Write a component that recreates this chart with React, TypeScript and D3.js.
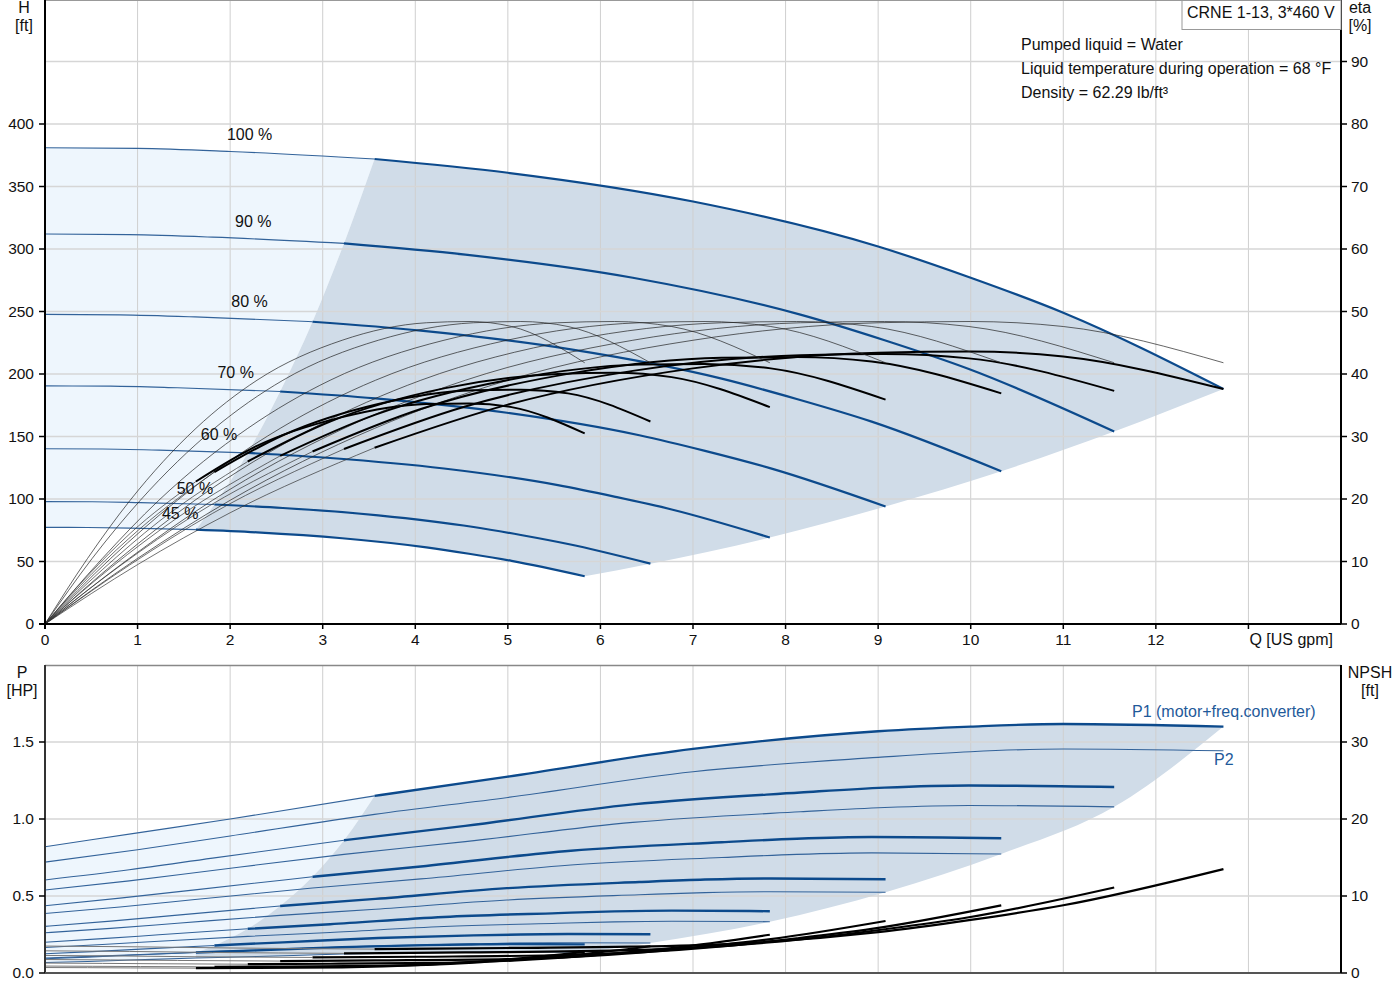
import React from 'react';
import * as d3 from 'd3';

// speed labels, top to bottom
const speeds = ['100 %', '90 %', '80 %', '70 %', '60 %', '50 %', '45 %'];

// flow points per speed curve [US gpm]
const flowGpm: number[][] = [
  [0, 1, 2, 3.56, 5, 7, 9, 10, 11, 12.73],
  [0, 0.91, 1.81, 3.23, 4.54, 6.35, 8.16, 9.07, 9.98, 11.55],
  [0, 0.81, 1.62, 2.89, 4.06, 5.68, 7.31, 8.12, 8.93, 10.33],
  [0, 0.71, 1.43, 2.54, 3.57, 4.99, 6.42, 7.13, 7.84, 9.08],
  [0, 0.62, 1.23, 2.19, 3.08, 4.31, 5.54, 6.15, 6.77, 7.83],
  [0, 0.51, 1.03, 1.83, 2.57, 3.6, 4.63, 5.14, 5.65, 6.54],
  [0, 0.46, 0.92, 1.63, 2.29, 3.21, 4.12, 4.58, 5.04, 5.83],
];

// head [ft]
const headFt: number[][] = [
  [381, 380.5, 378, 372, 361, 338, 302, 277, 249, 188],
  [312, 311.5, 309.5, 304.5, 295.5, 277, 247.5, 227, 204, 154],
  [247.7, 247.3, 245.7, 241.8, 234.7, 219.7, 196.3, 180, 161.9, 122.2],
  [190.5, 190.3, 189, 186, 180.5, 169, 151, 138.5, 124.5, 94],
  [140.2, 140, 139.1, 136.9, 132.8, 124.4, 111.1, 101.9, 91.6, 69.2],
  [97.9, 97.8, 97.1, 95.6, 92.8, 86.9, 77.6, 71.2, 64, 48.3],
  [77.3, 77.2, 76.7, 75.5, 73.3, 68.6, 61.3, 56.2, 50.5, 38.2],
];

// pump efficiency [%] (thin curves, same shape for all speeds)
const etaPump = [0, 10.5, 19.8, 31.3, 39, 45.4, 48.2, 48.4, 47.6, 41.8];

// total efficiency [%]
const etaTotal: number[][] = [
  [0, 9.5, 17.8, 28.2, 35.1, 40.9, 43.4, 43.6, 42.8, 37.6],
  [0, 9.4, 17.7, 28, 34.8, 40.5, 43, 43.2, 42.5, 37.3],
  [0, 9.3, 17.5, 27.6, 34.4, 40.1, 42.6, 42.7, 42, 36.9],
  [0, 9, 17, 26.9, 33.5, 39, 41.5, 41.6, 40.9, 35.9],
  [0, 8.7, 16.4, 26, 32.4, 37.7, 40, 40.2, 39.5, 34.7],
  [0, 8.1, 15.3, 24.3, 30.2, 35.2, 37.4, 37.5, 36.9, 32.4],
  [0, 7.7, 14.5, 22.8, 28.5, 33.1, 35.2, 35.3, 34.7, 30.5],
];

// P1 motor + freq. converter [HP]
const p1Hp: number[][] = [
  [0.82, 0.91, 1.0, 1.15, 1.275, 1.455, 1.57, 1.6, 1.617, 1.6],
  [0.604, 0.67, 0.746, 0.862, 0.955, 1.095, 1.172, 1.204, 1.218, 1.208],
  [0.437, 0.486, 0.54, 0.625, 0.692, 0.794, 0.849, 0.872, 0.883, 0.875],
  [0.303, 0.337, 0.376, 0.435, 0.481, 0.551, 0.591, 0.607, 0.614, 0.609],
  [0.2, 0.223, 0.248, 0.287, 0.317, 0.364, 0.389, 0.4, 0.405, 0.401],
  [0.125, 0.139, 0.155, 0.179, 0.199, 0.227, 0.244, 0.25, 0.253, 0.252],
  [0.093, 0.103, 0.115, 0.133, 0.147, 0.168, 0.181, 0.185, 0.188, 0.186],
];

// P2 shaft power [HP]
const p2Hp: number[][] = [
  [0.72, 0.8, 0.89, 1.03, 1.14, 1.307, 1.4, 1.437, 1.455, 1.443],
  [0.539, 0.598, 0.666, 0.77, 0.853, 0.978, 1.047, 1.075, 1.088, 1.079],
  [0.386, 0.429, 0.477, 0.552, 0.611, 0.701, 0.75, 0.77, 0.78, 0.773],
  [0.261, 0.29, 0.323, 0.374, 0.414, 0.474, 0.508, 0.522, 0.528, 0.524],
  [0.166, 0.185, 0.206, 0.238, 0.263, 0.302, 0.323, 0.332, 0.336, 0.333],
  [0.097, 0.108, 0.12, 0.139, 0.154, 0.176, 0.189, 0.194, 0.196, 0.195],
  [0.068, 0.075, 0.084, 0.097, 0.107, 0.123, 0.132, 0.135, 0.137, 0.136],
];

// NPSH [ft]
const npshFt: number[][] = [
  [3.5, 3.4, 3.25, 3.1, 3.25, 3.6, 5.3, 6.9, 8.8, 13.5],
  [2.88, 2.8, 2.67, 2.55, 2.67, 2.96, 4.36, 5.68, 7.24, 11.1],
  [2.28, 2.21, 2.11, 2.02, 2.11, 2.34, 3.45, 4.49, 5.72, 8.78],
  [1.75, 1.7, 1.63, 1.55, 1.63, 1.8, 2.65, 3.45, 4.4, 6.75],
  [1.29, 1.25, 1.2, 1.14, 1.2, 1.32, 1.95, 2.54, 3.24, 4.97],
  [0.9, 0.87, 0.84, 0.8, 0.84, 0.93, 1.36, 1.77, 2.26, 3.47],
  [0.71, 0.69, 0.66, 0.63, 0.66, 0.73, 1.08, 1.4, 1.79, 2.74],
];

// speed label anchors (Q, H)
const labelQ = [2.21, 2.25, 2.21, 2.06, 1.88, 1.62, 1.46];
const labelH = [387, 317.5, 254, 197, 147, 104, 84];

// ticks
const qTicks = [0, 1, 2, 3, 4, 5, 6, 7, 8, 9, 10, 11, 12];
const qGridLines = [1, 2, 3, 4, 5, 6, 7, 8, 9, 10, 11, 12, 13];
const hTicks = [0, 50, 100, 150, 200, 250, 300, 350, 400];
const hGridLines = [50, 100, 150, 200, 250, 300, 350, 400, 450];
const etaTicks = [0, 10, 20, 30, 40, 50, 60, 70, 80, 90];
const pTicks = [0, 0.5, 1.0, 1.5];
const npshTicks = [0, 10, 20, 30];

const infoLines = [
  'Pumped liquid = Water',
  'Liquid temperature during operation = 68 °F',
  'Density = 62.29 lb/ft³',
];

const BOLD = 3; // index where the operating range starts
const LAST = 9;

const BLUE = '#0c4a8c';
const THIN_BLUE = '#33639a';
const FONT = 'Arial, "Liberation Sans", sans-serif';

export default function App() {
  const x = d3.scaleLinear().domain([0, 14]).range([45, 1341]);
  const yH = d3.scaleLinear().domain([0, 500]).range([624, -1]);
  const yEta = d3.scaleLinear().domain([0, 100]).range([624, -1]);
  const yP = d3.scaleLinear().domain([0, 2]).range([973, 665]);
  const yN = d3.scaleLinear().domain([0, 40]).range([973, 665]);

  const gen = d3.line().curve(d3.curveMonotoneX);
  const seg = (qs: number[], vs: number[], y: (v: number) => number, from: number, to: number) => {
    const pts: [number, number][] = [];
    if (from <= to) for (let i = from; i <= to; i++) pts.push([x(qs[i]), y(vs[i])]);
    else for (let i = from; i >= to; i--) pts.push([x(qs[i]), y(vs[i])]);
    return pts;
  };
  const path = (pts: [number, number][]) => gen(pts) || '';
  const join = (parts: [number, number][][]) =>
    parts.map((p, i) => (i === 0 ? path(p) : 'L' + path(p).slice(1))).join('') + 'Z';

  const idx = speeds.map((_, i) => i);
  const last = speeds.length - 1;

  // top operating area
  const hEnds = idx.map(s => [x(flowGpm[s][LAST]), yH(headFt[s][LAST])] as [number, number]);
  const hStarts = idx.map(s => [x(flowGpm[s][BOLD]), yH(headFt[s][BOLD])] as [number, number]);
  const topGray = join([
    seg(flowGpm[0], headFt[0], yH, BOLD, LAST),
    hEnds,
    seg(flowGpm[last], headFt[last], yH, LAST, BOLD),
    [...hStarts].reverse(),
  ]);
  const topLight = join([
    seg(flowGpm[0], headFt[0], yH, 0, BOLD),
    hStarts,
    seg(flowGpm[last], headFt[last], yH, BOLD, 0),
  ]);

  // bottom operating area
  const pEnds = [
    [x(flowGpm[0][LAST]), yP(p1Hp[0][LAST])] as [number, number],
    ...idx.slice(1).map(s => [x(flowGpm[s][LAST]), yP(p2Hp[s][LAST])] as [number, number]),
  ];
  const pStarts = idx.map(s => [x(flowGpm[s][BOLD]), yP(p1Hp[s][BOLD])] as [number, number]);
  const botGray = join([
    seg(flowGpm[0], p1Hp[0], yP, BOLD, LAST),
    pEnds,
    seg(flowGpm[last], p2Hp[last], yP, LAST, BOLD),
    [...pStarts].reverse(),
  ]);
  const botLight = join([
    seg(flowGpm[0], p1Hp[0], yP, 0, BOLD),
    pStarts,
    seg(flowGpm[last], p2Hp[last], yP, BOLD, 0),
  ]);

  const txt = { fontFamily: FONT, fontSize: 15.5, fill: '#111' } as const;
  const big = { fontFamily: FONT, fontSize: 16, fill: '#111' } as const;

  return (
    <svg width={1400} height={1000} style={{ position: 'absolute', left: 0, top: 0, background: '#fff' }}>
      {/* ===== top panel ===== */}
      <path d={topLight} fill="#eef6fd" />
      <path d={topGray} fill="#d0dce8" />
      {qGridLines.map(q => (
        <line key={'qg' + q} x1={x(q)} x2={x(q)} y1={0} y2={624} stroke="#cfcfcf" strokeWidth={1} />
      ))}
      {hGridLines.map(h => (
        <line key={'hg' + h} x1={45} x2={1341} y1={yH(h)} y2={yH(h)} stroke="#d6d6d6" strokeWidth={1.3} />
      ))}
      <line x1={45} x2={1341} y1={0.5} y2={0.5} stroke="#999" />

      {/* head curves */}
      {idx.map(s => (
        <g key={'h' + s}>
          <path d={path(seg(flowGpm[s], headFt[s], yH, 0, BOLD))} fill="none" stroke={THIN_BLUE} strokeWidth={1.1} />
          <path d={path(seg(flowGpm[s], headFt[s], yH, BOLD, LAST))} fill="none" stroke={BLUE} strokeWidth={2.2} />
        </g>
      ))}

      {/* efficiency curves */}
      {idx.map(s => (
        <g key={'e' + s}>
          <path d={path(seg(flowGpm[s], etaPump, yEta, 0, LAST))} fill="none" stroke="#222" strokeWidth={0.7} />
          <path d={path(seg(flowGpm[s], etaTotal[s], yEta, 0, BOLD))} fill="none" stroke="#333" strokeWidth={0.7} />
          <path d={path(seg(flowGpm[s], etaTotal[s], yEta, BOLD, LAST))} fill="none" stroke="#000" strokeWidth={2} />
        </g>
      ))}

      {speeds.map((lab, s) => (
        <text key={'l' + s} x={x(labelQ[s])} y={yH(labelH[s])} textAnchor="middle" {...big}>
          {lab}
        </text>
      ))}

      {/* axes top */}
      <line x1={45} x2={45} y1={0} y2={629} stroke="#000" strokeWidth={2} />
      <line x1={39} x2={1341} y1={624} y2={624} stroke="#000" strokeWidth={2} />
      <line x1={1341} x2={1341} y1={0} y2={624} stroke="#000" strokeWidth={2} />
      {hTicks.map(h => (
        <g key={'ht' + h}>
          <line x1={39} x2={45} y1={yH(h)} y2={yH(h)} stroke="#000" strokeWidth={1.5} />
          <text x={34} y={yH(h) + 5} textAnchor="end" {...txt}>{h}</text>
        </g>
      ))}
      {etaTicks.map(e => (
        <g key={'et' + e}>
          <line x1={1341} x2={1347} y1={yEta(e)} y2={yEta(e)} stroke="#000" strokeWidth={1.5} />
          <text x={1351} y={yEta(e) + 5} {...txt}>{e}</text>
        </g>
      ))}
      {qTicks.map(q => (
        <g key={'qt' + q}>
          <line x1={x(q)} x2={x(q)} y1={624} y2={629} stroke="#000" strokeWidth={1.5} />
          <text x={x(q)} y={645} textAnchor="middle" {...txt}>{q}</text>
        </g>
      ))}
      <line x1={x(13)} x2={x(13)} y1={624} y2={629} stroke="#000" strokeWidth={1.5} />
      <text x={x(13) + 1} y={645} {...big}>Q [US gpm]</text>
      <text x={24} y={13} textAnchor="middle" {...big}>H</text>
      <text x={24} y={31} textAnchor="middle" {...big}>[ft]</text>
      <text x={1360} y={13} textAnchor="middle" {...big}>eta</text>
      <text x={1360} y={31} textAnchor="middle" {...big}>[%]</text>

      <rect x={1182} y={0.5} width={159} height={29} fill="#fff" stroke="#999" />
      <text x={1187} y={18} {...big}>CRNE 1-13, 3*460 V</text>
      {infoLines.map((t, i) => (
        <text key={'i' + i} x={1021} y={50 + i * 24} {...big}>{t}</text>
      ))}

      {/* ===== bottom panel ===== */}
      <path d={botLight} fill="#eef6fd" />
      <path d={botGray} fill="#d0dce8" />
      {qGridLines.map(q => (
        <line key={'bq' + q} x1={x(q)} x2={x(q)} y1={665} y2={973} stroke="#cfcfcf" strokeWidth={1} />
      ))}
      {pTicks.slice(1).map(p => (
        <line key={'bp' + p} x1={45} x2={1341} y1={yP(p)} y2={yP(p)} stroke="#d6d6d6" strokeWidth={1.3} />
      ))}
      <line x1={45} x2={1341} y1={665.5} y2={665.5} stroke="#888" strokeWidth={1.5} />

      {idx.map(s => (
        <path key={'p2' + s} d={path(seg(flowGpm[s], p2Hp[s], yP, 0, LAST))} fill="none" stroke={THIN_BLUE} strokeWidth={1.1} />
      ))}
      {idx.map(s => (
        <g key={'p1' + s}>
          <path d={path(seg(flowGpm[s], p1Hp[s], yP, 0, BOLD))} fill="none" stroke={THIN_BLUE} strokeWidth={1.1} />
          <path d={path(seg(flowGpm[s], p1Hp[s], yP, BOLD, LAST))} fill="none" stroke={BLUE} strokeWidth={2.4} />
        </g>
      ))}
      {idx.map(s => (
        <g key={'n' + s}>
          <path d={path(seg(flowGpm[s], npshFt[s], yN, 0, BOLD))} fill="none" stroke="#777" strokeWidth={1} />
          <path d={path(seg(flowGpm[s], npshFt[s], yN, BOLD, LAST))} fill="none" stroke="#000" strokeWidth={2.2} />
        </g>
      ))}

      <line x1={45} x2={45} y1={665} y2={973} stroke="#333" strokeWidth={2} />
      <line x1={45} x2={1341} y1={973} y2={973} stroke="#555" strokeWidth={2} />
      <line x1={1341} x2={1341} y1={665} y2={973} stroke="#000" strokeWidth={2} />
      {pTicks.map(p => (
        <g key={'pt' + p}>
          <line x1={39} x2={45} y1={yP(p)} y2={yP(p)} stroke="#000" strokeWidth={1.5} />
          <text x={34} y={yP(p) + 5} textAnchor="end" {...txt}>{p.toFixed(1)}</text>
        </g>
      ))}
      {npshTicks.map(n => (
        <g key={'nt' + n}>
          <line x1={1341} x2={1347} y1={yN(n)} y2={yN(n)} stroke="#000" strokeWidth={1.5} />
          <text x={1351} y={yN(n) + 5} {...txt}>{n}</text>
        </g>
      ))}
      <text x={22} y={678} textAnchor="middle" {...big}>P</text>
      <text x={22} y={696} textAnchor="middle" {...big}>[HP]</text>
      <text x={1370} y={678} textAnchor="middle" {...big}>NPSH</text>
      <text x={1370} y={696} textAnchor="middle" {...big}>[ft]</text>
      <text x={1132} y={717} fontFamily={FONT} fontSize={16} fill="#1f5a9a">P1 (motor+freq.converter)</text>
      <text x={1214} y={765} fontFamily={FONT} fontSize={16} fill="#1f5a9a">P2</text>
    </svg>
  );
}
